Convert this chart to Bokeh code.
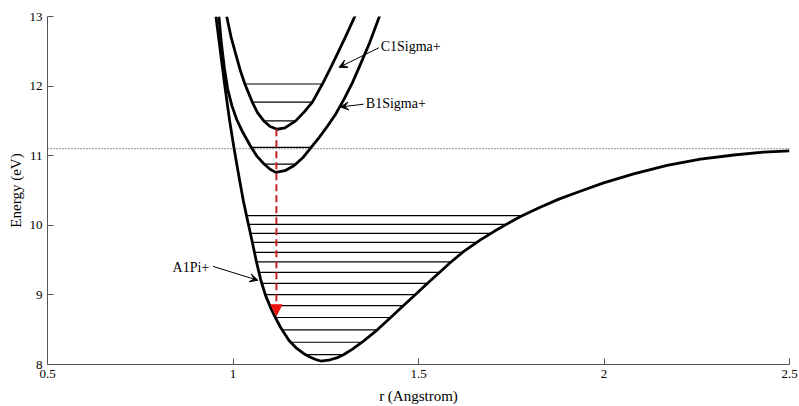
import numpy as np
from bokeh.plotting import figure
from bokeh.models import Range1d, FixedTicker, Arrow, VeeHead, NormalHead, Span, Label
from bokeh.embed import file_html
from bokeh.resources import INLINE

# ---------------- data ----------------
# A1Pi+ potential curve (r in Angstrom, E in eV)
A_r = [0.954, 0.966, 0.978, 0.991, 1.003, 1.016, 1.028, 1.040, 1.052, 1.063, 1.075,
       1.088, 1.102, 1.115, 1.128, 1.151, 1.170, 1.191, 1.210, 1.225, 1.237,
       1.262, 1.282, 1.299, 1.322, 1.348, 1.389, 1.425, 1.456, 1.492, 1.523,
       1.555, 1.586, 1.622, 1.667, 1.703, 1.739, 1.775, 1.828, 1.880, 1.936,
       1.999, 2.080, 2.170, 2.260, 2.350, 2.430, 2.500]
A_E = [13.0, 12.5, 12.0, 11.5, 11.1, 10.7, 10.35, 10.05, 9.76, 9.48, 9.21,
       8.99, 8.81, 8.665, 8.535, 8.345, 8.24, 8.155, 8.10, 8.068, 8.05,
       8.068, 8.10, 8.143, 8.22, 8.32, 8.498, 8.675, 8.83, 9.005, 9.16,
       9.315, 9.465, 9.625, 9.79, 9.91, 10.02, 10.125, 10.26, 10.38, 10.49,
       10.61, 10.74, 10.86, 10.95, 11.01, 11.05, 11.07]

# B1Sigma+ potential curve
B_r = [0.962, 0.969, 0.977, 0.986, 0.997, 1.010, 1.026, 1.047, 1.065, 1.083, 1.100,
       1.115, 1.140, 1.165, 1.188, 1.209, 1.232, 1.254, 1.277, 1.299, 1.322,
       1.344, 1.368, 1.396]
B_E = [13.0, 12.6, 12.25, 11.95, 11.72, 11.52, 11.34, 11.14, 10.99, 10.885, 10.805,
       10.76, 10.785, 10.86, 10.97, 11.11, 11.26, 11.42, 11.60, 11.81, 12.05,
       12.32, 12.62, 13.02]

# C1Sigma+ potential curve
C_r = [0.983, 0.995, 1.008, 1.020, 1.032, 1.052, 1.066, 1.083, 1.100, 1.119,
       1.140, 1.169, 1.192, 1.214, 1.241, 1.262, 1.283, 1.305, 1.330]
C_E = [13.0, 12.7, 12.45, 12.22, 12.03, 11.77, 11.62, 11.50, 11.42, 11.38,
       11.40, 11.50, 11.63, 11.77, 12.03, 12.25, 12.48, 12.73, 13.02]

# vibrational levels (eV)
A_levels = [8.143, 8.320, 8.498, 8.675, 8.847, 9.005, 9.167, 9.325, 9.474,
            9.612, 9.756, 9.885, 10.014, 10.139]
B_levels = [10.88, 11.12]
C_levels = [11.50, 11.77, 12.03]

dissociation_E = 11.1
transition_r = 1.117
transition_E = [11.38, 8.70]

x_ticks = [0.5, 1.0, 1.5, 2.0, 2.5]
x_tick_labels = ["0.5", "1", "1.5", "2", "2.5"]
y_ticks = [8, 9, 10, 11, 12, 13]
y_tick_labels = ["8", "9", "10", "11", "12", "13"]

FONT = "Liberation Serif"


def level_ends(r, E, levels):
    r = np.asarray(r, dtype=float)
    E = np.asarray(E, dtype=float)
    i = int(np.argmin(E))
    lr, lE = r[:i + 1][::-1], E[:i + 1][::-1]
    rr, rE = r[i:], E[i:]
    lv = np.asarray(levels, dtype=float)
    return np.interp(lv, lE, lr), np.interp(lv, rE, rr)


p = figure(width=799, height=406, output_backend="svg", toolbar_location=None,
           x_range=Range1d(0.5, 2.5), y_range=Range1d(8, 13),
           min_border_left=47, min_border_right=10, min_border_top=16,
           min_border_bottom=42)
p.outline_line_color = None
p.grid.visible = False
p.background_fill_color = "white"
p.border_fill_color = "white"

# dissociation limit
p.add_layout(Span(location=dissociation_E, dimension="width", line_color="#222222",
                  line_width=1, line_dash="1 2"))

# vibrational levels
for r, E, lev in [(A_r, A_E, A_levels), (B_r, B_E, B_levels), (C_r, C_E, C_levels)]:
    x0, x1 = level_ends(r, E, lev)
    p.segment(x0=x0, y0=lev, x1=x1, y1=lev, line_color="black", line_width=1.2)

# potential curves
for r, E in [(A_r, A_E), (B_r, B_E), (C_r, C_E)]:
    p.line(r, E, line_color="black", line_width=2.8, line_join="round")

# transition arrow
p.add_layout(Arrow(end=NormalHead(size=11, fill_color="#ee1111", line_color="#ee1111"),
                   x_start=transition_r, y_start=transition_E[0],
                   x_end=transition_r, y_end=transition_E[1],
                   line_color="#c42020", line_width=2, line_dash="7 4"))

# annotations
def vee():
    return VeeHead(size=8, fill_color="black", line_color="black", line_width=1)

p.add_layout(Arrow(end=vee(), x_start=1.393, y_start=12.55, x_end=1.286, y_end=12.27,
                   line_color="black", line_width=1))
p.add_layout(Arrow(end=vee(), x_start=1.352, y_start=11.74, x_end=1.290, y_end=11.70,
                   line_color="black", line_width=1))
p.add_layout(Arrow(end=vee(), x_start=0.946, y_start=9.41, x_end=1.067, y_end=9.21,
                   line_color="black", line_width=1))

for txt, x, y in [("C1Sigma+", 1.398, 12.565), ("B1Sigma+", 1.358, 11.75), ("A1Pi+", 0.837, 9.39)]:
    p.add_layout(Label(x=x, y=y, text=txt, text_font=FONT, text_font_size="14px",
                       text_baseline="middle", text_align="left", text_color="black"))

# axes
for ax in (p.xaxis[0], p.yaxis[0]):
    ax.major_tick_in = 6
    ax.major_tick_out = 0
    ax.minor_tick_in = 0
    ax.minor_tick_out = 0
    ax.axis_line_color = "#555555"
    ax.major_tick_line_color = "#555555"
    ax.major_label_text_font = FONT
    ax.major_label_text_font_size = "13px"
    ax.major_label_text_color = "black"
    ax.axis_label_text_font = FONT
    ax.axis_label_text_font_size = "15px"
    ax.axis_label_text_font_style = "normal"
    ax.axis_label_text_color = "black"
    ax.major_label_standoff = 5

p.xaxis.ticker = FixedTicker(ticks=x_ticks)
p.xaxis.major_label_overrides = dict(zip(x_ticks, x_tick_labels))
p.yaxis.ticker = FixedTicker(ticks=y_ticks)
p.yaxis.major_label_overrides = dict(zip(y_ticks, y_tick_labels))
p.xaxis.axis_label = "r (Angstrom)"
p.yaxis.axis_label = "Energy (eV)"
p.xaxis.axis_label_standoff = 7
p.yaxis.axis_label_standoff = 3

open("out.html", "w").write(file_html(p, INLINE))
